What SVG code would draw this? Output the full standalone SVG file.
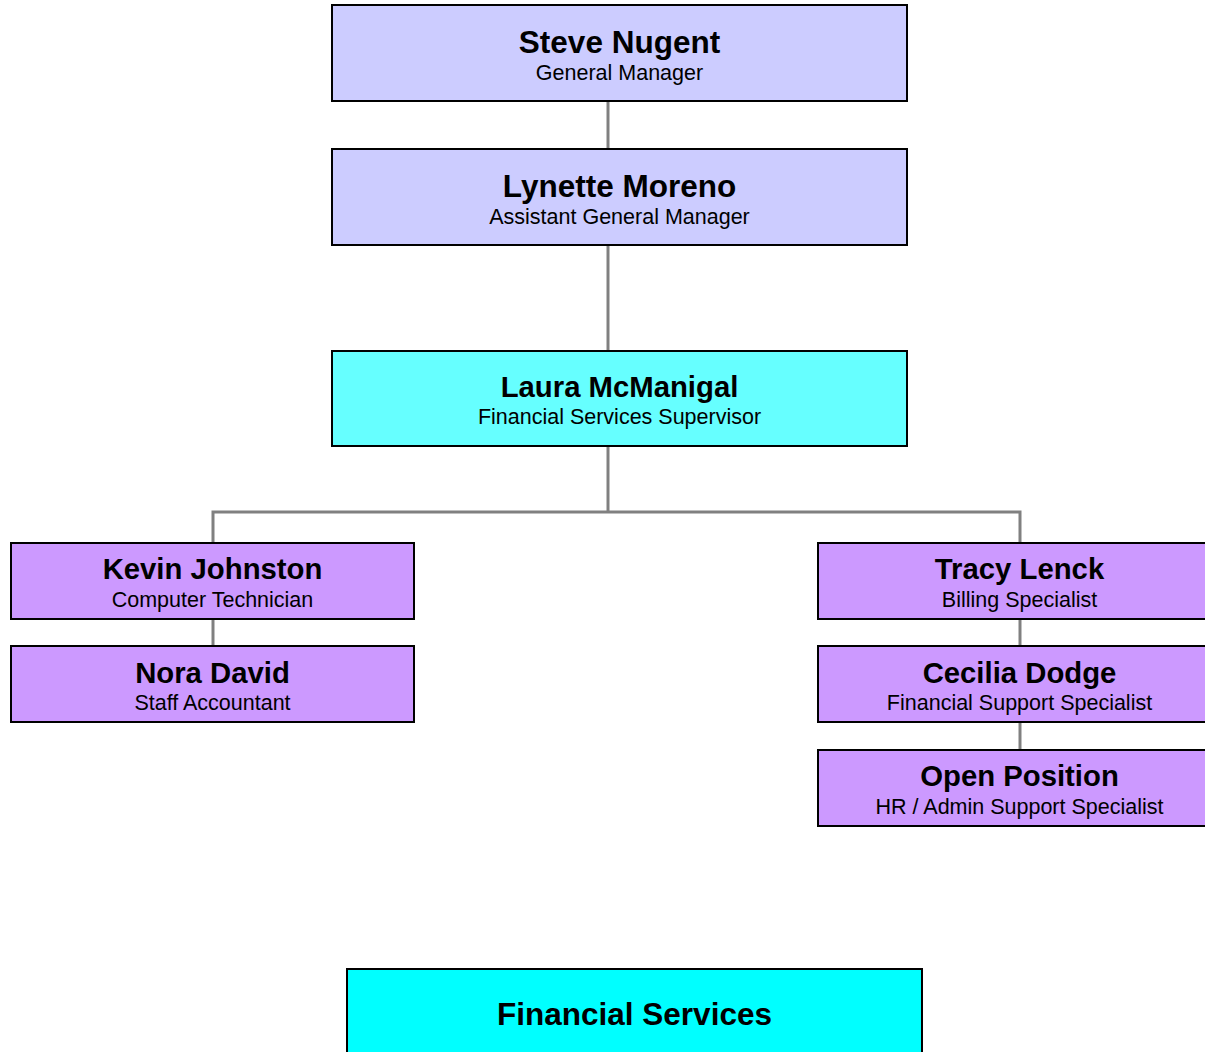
<svg xmlns="http://www.w3.org/2000/svg" width="1205" height="1052" viewBox="0 0 1205 1052">
<style>
.box{stroke:#000;stroke-width:2}
.mgr{fill:#CCCCFF}
.sup{fill:#66FFFF}
.staff{fill:#CC99FF}
.title{fill:#00FFFF}
.name{font-family:"Liberation Sans",Arial,Helvetica,sans-serif;font-weight:bold;font-size:29.3px;text-anchor:middle;fill:#000}
.big{font-size:31.5px}
.role{font-family:"Liberation Sans",Arial,Helvetica,sans-serif;font-size:21.5px;text-anchor:middle;fill:#000}
.conn{stroke:#808080;stroke-width:3;fill:none}
</style>
<rect width="1205" height="1052" fill="#fff"/>
<g id="connectors">
<line class="conn" x1="608" y1="101" x2="608" y2="149"/>
<line class="conn" x1="608" y1="245" x2="608" y2="351"/>
<polyline class="conn" points="608,446 608,512"/>
<polyline class="conn" points="213,543 213,512 1020,512 1020,543"/>
<line class="conn" x1="213" y1="619" x2="213" y2="646"/>
<line class="conn" x1="1020" y1="619" x2="1020" y2="646"/>
<line class="conn" x1="1020" y1="722" x2="1020" y2="750"/>
</g>
<g id="steve">
<rect class="box mgr" x="332" y="5" width="575" height="96"/>
<text class="name big" x="619.5" y="53">Steve Nugent</text>
<text class="role" x="619.5" y="80">General Manager</text>
</g>
<g id="lynette">
<rect class="box mgr" x="332" y="149" width="575" height="96"/>
<text class="name big" x="619.5" y="197">Lynette Moreno</text>
<text class="role" x="619.5" y="224">Assistant General Manager</text>
</g>
<g id="laura">
<rect class="box sup" x="332" y="351" width="575" height="95"/>
<text class="name" x="619.5" y="397">Laura McManigal</text>
<text class="role" x="619.5" y="424">Financial Services Supervisor</text>
</g>
<g id="kevin">
<rect class="box staff" x="11" y="543" width="403" height="76"/>
<text class="name" x="212.5" y="579">Kevin Johnston</text>
<text class="role" x="212.5" y="607">Computer Technician</text>
</g>
<g id="nora">
<rect class="box staff" x="11" y="646" width="403" height="76"/>
<text class="name" x="212.5" y="683">Nora David</text>
<text class="role" x="212.5" y="710">Staff Accountant</text>
</g>
<g id="tracy">
<rect class="box staff" x="818" y="543" width="403" height="76"/>
<text class="name" x="1019.5" y="579">Tracy Lenck</text>
<text class="role" x="1019.5" y="607">Billing Specialist</text>
</g>
<g id="cecilia">
<rect class="box staff" x="818" y="646" width="403" height="76"/>
<text class="name" x="1019.5" y="683">Cecilia Dodge</text>
<text class="role" x="1019.5" y="710">Financial Support Specialist</text>
</g>
<g id="open">
<rect class="box staff" x="818" y="750" width="403" height="76"/>
<text class="name" x="1019.5" y="786">Open Position</text>
<text class="role" x="1019.5" y="814">HR / Admin Support Specialist</text>
</g>
<g id="financial-services">
<rect class="box title" x="347" y="969" width="575" height="100"/>
<text class="name big" x="634.5" y="1025">Financial Services</text>
</g>
</svg>
